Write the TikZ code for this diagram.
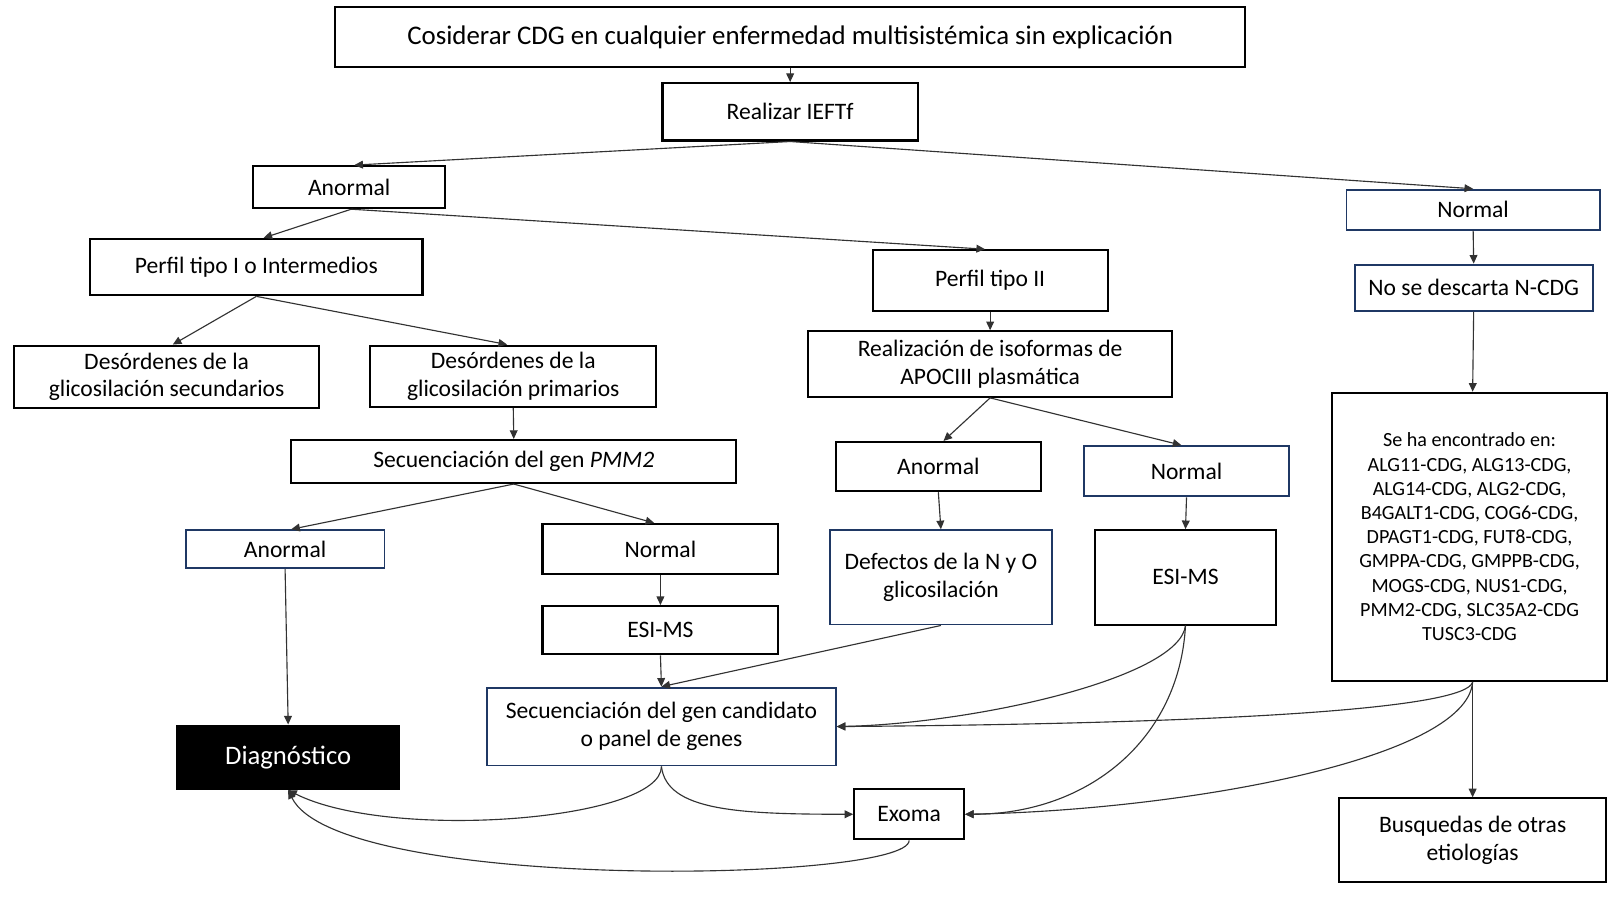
\documentclass[tikz,border=0pt]{standalone}
\usepackage{fontspec}
\setmainfont{Carlito}
\usetikzlibrary{arrows.meta,calc}
\definecolor{navy}{RGB}{31,56,100}
\definecolor{lin}{RGB}{50,50,50}
\begin{document}
\begin{tikzpicture}[x=0.5pt,y=-0.5pt,
 box/.style={draw=black,line width=1pt,inner sep=0pt,align=center,font=\fontsize{11.5}{13.6}\selectfont},
 bbox/.style={box,draw=navy,line width=0.9pt},
 arr/.style={draw=lin,line width=0.55pt,-{Triangle[length=4.2pt,width=3.8pt]}},
]
\useasboundingbox (0,0) rectangle (1568,882);
\fill[white] (0,0) rectangle (1568,882);

\node[box,minimum width=443.5pt,minimum height=29pt,font=\fontsize{13.1}{15.5}\selectfont] (top) at (770.5,36) {Cosiderar CDG en cualquier enfermedad multisistémica sin explicación};
\node[box,minimum width=124.5pt,minimum height=28pt] (ieft) at (770.5,109) {Realizar IEFTf};
\node[box,minimum width=93.5pt,minimum height=20.5pt] (an1) at (340.5,182.5) {Anormal};
\node[bbox,minimum width=123.5pt,minimum height=19.5pt] (norR) at (1436.5,204.5) {Normal};
\node[box,minimum width=162pt,minimum height=27.5pt] (p1) at (250,260.5) {Perfil tipo I o Intermedios};
\node[box,minimum width=114.5pt,minimum height=29.5pt] (p2) at (965.5,273.5) {Perfil tipo II};
\node[bbox,minimum width=116pt,minimum height=22.5pt] (nodesc) at (1437,280.5) {No se descarta N-CDG};
\node[box,minimum width=148.5pt,minimum height=30.5pt] (dsec) at (162.5,367.5) {Desórdenes de la\\glicosilación secundarios};
\node[box,minimum width=139.5pt,minimum height=30pt] (dprim) at (500.5,367) {Desórdenes de la\\glicosilación primarios};
\node[box,minimum width=177.5pt,minimum height=32pt] (apoc) at (965.5,355) {Realización de isoformas de\\APOCIII plasmática};
\node[box,minimum width=134pt,minimum height=140.5pt,font=\fontsize{9.8}{11.8}\selectfont] (seha) at (1433,523.5) {Se ha encontrado en:\\ALG11-CDG, ALG13-CDG,\\ALG14-CDG, ALG2-CDG,\\B4GALT1-CDG, COG6-CDG,\\DPAGT1-CDG, FUT8-CDG,\\GMPPA-CDG, GMPPB-CDG,\\MOGS-CDG, NUS1-CDG,\\PMM2-CDG, SLC35A2-CDG\\TUSC3-CDG};
\node[box,minimum width=217pt,minimum height=21pt] (pmm2) at (501,450) {Secuenciación del gen \textit{PMM2}};
\node[box,minimum width=100pt,minimum height=24pt] (anA) at (915,455) {Anormal};
\node[bbox,minimum width=100pt,minimum height=24.5pt] (norA) at (1157,459.5) {Normal};
\node[bbox,minimum width=97pt,minimum height=18.5pt] (anP) at (278,535.5) {Anormal};
\node[box,minimum width=115pt,minimum height=24.5pt] (norP) at (644,535.5) {Normal};
\node[bbox,minimum width=108.5pt,minimum height=46pt] (def) at (917.5,563) {Defectos de la N y O\\glicosilación};
\node[box,minimum width=88pt,minimum height=46pt] (esiR) at (1156,563) {ESI-MS};
\node[box,minimum width=115pt,minimum height=23.5pt] (esiL) at (644,614.5) {ESI-MS};
\node[bbox,minimum width=170pt,minimum height=38pt] (cand) at (645,708.5) {Secuenciación del gen candidato\\o panel de genes};
\node[box,draw=black,fill=black,text=white,minimum width=108pt,minimum height=31pt,font=\fontsize{13}{15}\selectfont] (diag) at (281,738.5) {Diagnóstico};
\node[box,minimum width=53.5pt,minimum height=24.5pt] (exoma) at (886.5,794) {Exoma};
\node[box,minimum width=130pt,minimum height=41pt] (busq) at (1436,819.5) {Busquedas de otras\\etiologías};

\coordinate (sehaS) at (seha.south -| busq.north);

\draw[arr] (top.south) -- (ieft.north);
\draw[arr] (ieft.south) -- ($(an1.north)+(5,0)$);
\draw[arr] (ieft.south) -- (norR.north);
\draw[arr] ($(an1.south)+(2,0)$) -- ($(p1.north)+(7,0)$);
\draw[arr] ($(an1.south)+(2,0)$) -- ($(p2.north)+(-5,0)$);
\draw[arr] (p1.south) -- ($(dsec.north)+(6,0)$);
\draw[arr] (p1.south) -- ($(dprim.north)+(-6,0)$);
\draw[arr] (dprim.south) -- (pmm2.north);
\draw[arr] (pmm2.south) -- ($(anP.north)+(6,0)$);
\draw[arr] (pmm2.south) -- ($(norP.north)+(-6,0)$);
\draw[arr] (anP.south) -- (diag.north);
\draw[arr] (norP.south) -- (esiL.north);
\draw[arr] (esiL.south) -- (cand.north);
\draw[arr] (def.south) -- (cand.north);
\draw[arr] (p2.south) -- (apoc.north);
\draw[arr] (apoc.south) -- ($(anA.north)+(5,0)$);
\draw[arr] (apoc.south) -- ($(norA.north)+(-5,0)$);
\draw[arr] (anA.south) -- (def.north);
\draw[arr] (norA.south) -- (esiR.north);
\draw[arr] (norR.south) -- (nodesc.north);
\draw[arr] (nodesc.south) -- (seha.north -| busq.north);
\draw[arr] (sehaS) -- (busq.north);

\draw[arr] (esiR.south) .. controls +(-6,51) and +(135,-3) .. (cand.east);
\draw[arr] (esiR.south) .. controls +(-6,111) and +(120,0) .. (exoma.east);
\draw[arr] (sehaS) .. controls +(-6,26) and +(385,-3) .. (cand.east);
\draw[arr] (sehaS) .. controls +(-6,76) and +(210,-4) .. (exoma.east);
\draw[arr] (cand.south) .. controls +(0,53) and +(99,50) .. (diag.south);
\draw[arr] (cand.south) .. controls +(5,43) and +(-113,0) .. (exoma.west);
\draw[arr] (exoma.south) .. controls +(0,41) and +(49,100) .. (diag.south);
\end{tikzpicture}
\end{document}
